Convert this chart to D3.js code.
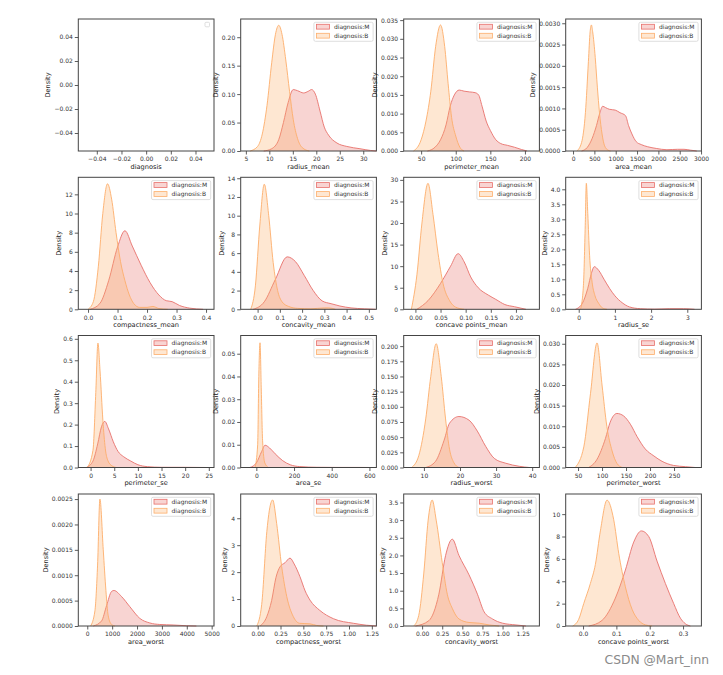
<!DOCTYPE html>
<html><head><meta charset="utf-8">
<script src="https://cdn.jsdelivr.net/npm/d3@7"></script>
<style>body{margin:0;background:#fff} svg text{font-family:"DejaVu Sans",sans-serif}</style>
</head><body><svg id="c" width="723" height="675"></svg>
<script>
// ---------------- data ----------------
const features = ["diagnosis","radius_mean","perimeter_mean","area_mean",
  "compactness_mean","concavity_mean","concave points_mean","radius_se",
  "perimeter_se","area_se","radius_worst","perimeter_worst",
  "area_worst","compactness_worst","concavity_worst","concave points_worst"];
const seriesNames = ["diagnosis:M","diagnosis:B"];

const xDomains = [[-0.055,0.055],[3.9,32.8],[24.8,220.9],[-172,3008],
  [-0.033,0.427],[-0.076,0.534],[-0.0233,0.2467],[-0.36,3.39],
  [-2.6,26.1],[-83,637],[4.4,42.0],[24.3,307],
  [-361,5094],[-0.186,1.30],[-0.229,1.458],[-0.052,0.355]];
const yDomains = [[-0.055,0.055],[0,0.232],[0,0.0353],[0,0.0031],
  [0,13.78],[0,14.1],[0,30.6],[0,4.4],
  [0,0.6155],[0,0.058],[0,0.2175],[0,0.032],
  [0,0.0026],[0,4.9],[0,3.74],[0,11.8]];
const xTicks = [[-0.04,-0.02,0,0.02,0.04],[5,10,15,20,25,30],[50,100,150,200],[0,500,1000,1500,2000,2500,3000],
  [0,0.1,0.2,0.3,0.4],[0,0.1,0.2,0.3,0.4,0.5],[0,0.05,0.1,0.15,0.2],[0,1,2,3],
  [0,5,10,15,20,25],[0,200,400,600],[10,20,30,40],[50,100,150,200,250],
  [0,1000,2000,3000,4000,5000],[0,0.25,0.5,0.75,1,1.25],[0,0.25,0.5,0.75,1,1.25],[0,0.1,0.2,0.3]];
const xFormats = [".2f","d","d","d",".1f",".1f",".2f","d","d","d","d","d","d",".2f",".2f",".1f"];
const yTicks = [[-0.04,-0.02,0,0.02,0.04],[0,0.05,0.1,0.15,0.2],[0,0.005,0.01,0.015,0.02,0.025,0.03,0.035],[0,0.0005,0.001,0.0015,0.002,0.0025,0.003],
  [0,2,4,6,8,10,12],[0,2,4,6,8,10,12,14],[0,5,10,15,20,25,30],[0,0.5,1,1.5,2,2.5,3,3.5,4],
  [0,0.1,0.2,0.3,0.4,0.5,0.6],[0,0.01,0.02,0.03,0.04,0.05],[0,0.025,0.05,0.075,0.1,0.125,0.15,0.175,0.2],[0,0.005,0.01,0.015,0.02,0.025,0.03],
  [0,0.0005,0.001,0.0015,0.002,0.0025],[0,1,2,3,4],[0,0.5,1,1.5,2,2.5,3,3.5],[0,2,4,6,8,10]];
const yFormats = [".2f",".2f",".3f",".4f","d","d","d",".1f",".1f",".2f",".3f",".3f",".4f","d",".1f","d"];

// density curves: [value, density]
const radiusMeanM = [[8.8,0],[10.5,0.004],[12,0.02],[13,0.05],[14,0.085],[15.1,0.108],[16,0.106],[17.3,0.102],[18.3,0.105],[19.0,0.108],[19.8,0.1],[20.8,0.07],[21.7,0.042],[22.6,0.028],[24.4,0.014],[26.5,0.008],[29.3,0.004],[31.5,0.001],[32.8,0]];
const radiusMeanB = [[5.9,0],[7.5,0.008],[8.5,0.03],[9.5,0.08],[10.5,0.155],[11.3,0.205],[12.0,0.221],[12.7,0.205],[13.5,0.16],[14.3,0.105],[15.1,0.055],[16.0,0.022],[17.0,0.006],[18.5,0]];
const perimeterMeanM = [[59,0],[70,0.001],[78,0.003],[86,0.007],[92,0.012],[98,0.015],[105,0.0163],[112,0.016],[120,0.0158],[128,0.0156],[133,0.015],[138,0.012],[144,0.008],[150,0.0055],[158,0.003],[165,0.002],[175,0.0015],[185,0.001],[195,0.0004],[203,0]];
const perimeterMeanB = [[39,0],[50,0.003],[57,0.008],[64,0.016],[71,0.028],[78,0.0337],[84,0.028],[89,0.018],[94,0.009],[100,0.004],[106,0.001],[112,0]];
const areaMeanM = [[200,0],[330,0.00008],[450,0.0003],[550,0.0006],[630,0.0009],[695,0.00105],[760,0.00102],[850,0.00098],[990,0.00096],[1100,0.0009],[1230,0.00083],[1300,0.0006],[1380,0.0004],[1480,0.00022],[1600,0.00015],[1750,0.0001],[1950,0.00006],[2200,0.00003],[2450,0.00004],[2600,0.00004],[2750,0.00002],[2900,0]];
const areaMeanB = [[90,0],[200,0.0002],[290,0.0009],[360,0.0021],[400,0.0028],[430,0.00296],[460,0.0028],[520,0.0022],[570,0.0015],[620,0.0009],[680,0.0004],[740,0.00012],[820,0.00002],[880,0]];
const compactnessMeanM = [[0.007,0],[0.04,0.6],[0.07,3],[0.1,6.5],[0.125,8.2],[0.15,6.6],[0.18,4.6],[0.21,2.8],[0.24,1.5],[0.265,0.9],[0.285,0.8],[0.31,0.4],[0.345,0.12],[0.39,0]];
const compactnessMeanB = [[0.0,0],[0.018,0.8],[0.035,4.5],[0.05,10],[0.066,13.1],[0.08,11.5],[0.095,8],[0.11,5],[0.125,3],[0.14,1.5],[0.155,0.6],[0.175,0.2],[0.2,0.2],[0.22,0.3],[0.24,0.08],[0.27,0]];
const concavityMeanM = [[-0.02,0],[0.03,0.8],[0.08,3.2],[0.133,5.6],[0.17,5.1],[0.21,3.6],[0.25,2],[0.29,0.9],[0.33,0.6],[0.37,0.35],[0.42,0.15],[0.48,0.05],[0.53,0]];
const concavityMeanB = [[-0.031,0],[-0.01,2.5],[0.01,9],[0.03,13.36],[0.05,10],[0.07,5],[0.09,2],[0.11,0.8],[0.14,0.3],[0.18,0.1],[0.24,0.05],[0.3,0.15],[0.32,0.15],[0.35,0]];
const concavePointsMeanM = [[0.003,0],[0.025,2],[0.05,6],[0.07,10],[0.085,12.9],[0.097,11],[0.11,7.5],[0.125,5],[0.145,3.3],[0.16,2.3],[0.178,1.1],[0.197,0.6],[0.22,0]];
const concavePointsMeanB = [[-0.008,0],[0.003,8],[0.013,20],[0.025,29.2],[0.035,22],[0.045,13],[0.055,6],[0.068,2],[0.08,0.5],[0.097,0]];
const radiusSeM = [[-0.09,0],[0.1,0.2],[0.25,0.7],[0.35,1.2],[0.43,1.42],[0.55,1.3],[0.7,1.0],[0.85,0.7],[1.0,0.45],[1.2,0.22],[1.4,0.08],[1.7,0.02],[2.1,0.005],[2.5,0.02],[2.9,0.02],[3.2,0]];
const radiusSeB = [[0.05,0],[0.13,0.8],[0.18,2.8],[0.21,4.2],[0.25,3.2],[0.3,1.8],[0.37,0.9],[0.45,0.45],[0.55,0.2],[0.65,0.05],[0.78,0]];
const perimeterSeM = [[-0.9,0],[0.5,0.03],[1.5,0.11],[2.3,0.19],[3.0,0.215],[3.8,0.18],[4.8,0.12],[5.8,0.075],[7.0,0.05],[8.5,0.03],[10,0.013],[12,0.004],[15,0.001],[20,0.0008],[24.5,0]];
const perimeterSeB = [[-0.7,0],[0.5,0.08],[1.1,0.35],[1.55,0.58],[2.0,0.45],[2.6,0.22],[3.1,0.09],[3.7,0.03],[4.5,0.008],[5.5,0]];
const areaSeM = [[-34,0],[0,0.002],[28,0.007],[46,0.0098],[70,0.0086],[100,0.006],[140,0.003],[180,0.0012],[230,0.0004],[320,0.0001],[420,0.00004],[550,0.00003],[610,0]];
const areaSeB = [[-7,0],[7,0.01],[13,0.04],[19.5,0.0548],[26,0.035],[33,0.012],[45,0.002],[64,0]];
const radiusWorstM = [[10.5,0],[13.2,0.01],[15.6,0.045],[17.1,0.073],[19.7,0.084],[22.5,0.078],[24.8,0.06],[27.1,0.035],[29.5,0.015],[32.7,0.007],[36.4,0.002],[39.2,0]];
const radiusWorstB = [[6.6,0],[8.6,0.02],[10.5,0.08],[11.9,0.15],[13.4,0.204],[14.8,0.15],[16,0.08],[17.1,0.03],[18.3,0.008],[19.7,0]];
const perimeterWorstM = [[72,0],[89.6,0.002],[107,0.007],[117,0.011],[131,0.0131],[145,0.0125],[159,0.0105],[173,0.0075],[190,0.0045],[208,0.0028],[225,0.0015],[249,0.0005],[274,0.0002],[294,0]];
const perimeterWorstB = [[44,0],[62,0.005],[76,0.018],[89.6,0.0302],[100,0.02],[110,0.01],[121,0.004],[131,0.001],[142,0]];
const areaWorstM = [[240,0],[575,0.0001],[775,0.0004],[976,0.00068],[1070,0.0007],[1377,0.00058],[1711,0.00038],[2112,0.00015],[2513,0.00006],[2914,0.00003],[3449,0.00002],[3984,0.000005],[4385,0]];
const areaWorstB = [[134,0],[307,0.0003],[414,0.0012],[508,0.0025],[642,0.0015],[749,0.0007],[842,0.0002],[976,0.00003],[1110,0]];
const compactnessWorstM = [[0.026,0],[0.1,0.35],[0.153,0.95],[0.2,1.8],[0.245,2.2],[0.3,2.35],[0.354,2.52],[0.4,2.3],[0.463,1.83],[0.52,1.3],[0.573,0.96],[0.68,0.58],[0.83,0.27],[1.05,0.1],[1.19,0.03],[1.3,0]];
const compactnessWorstB = [[-0.01,0],[0.044,0.8],[0.1,3.5],[0.128,4.3],[0.164,4.68],[0.208,3.8],[0.263,2.2],[0.318,1.1],[0.39,0.35],[0.46,0.1],[0.573,0.08],[0.646,0.02],[0.72,0]];
const concavityWorstM = [[-0.083,0],[0.083,0.15],[0.208,0.9],[0.292,2],[0.375,2.46],[0.458,2.0],[0.583,1.45],[0.688,0.9],[0.771,0.4],[0.875,0.2],[1.0,0.08],[1.167,0.03],[1.29,0]];
const concavityWorstB = [[-0.104,0],[-0.042,0.3],[0.021,1.5],[0.075,3],[0.125,3.57],[0.175,3],[0.25,1.8],[0.313,0.9],[0.375,0.5],[0.458,0.2],[0.583,0.1],[0.708,0.08],[0.833,0.03],[0.958,0]];
const concavePointsWorstM = [[0.017,0],[0.057,0.5],[0.097,2.5],[0.127,5],[0.152,7.5],[0.175,8.5],[0.197,8],[0.222,5.8],[0.247,3.8],[0.272,2],[0.292,0.7],[0.307,0.2],[0.322,0]];
const concavePointsWorstB = [[-0.031,0],[-0.013,0.6],[0.002,2],[0.022,3.8],[0.037,5.5],[0.052,8.5],[0.072,11.25],[0.092,9.5],[0.107,6.5],[0.127,3.5],[0.147,1.5],[0.167,0.5],[0.187,0.1],[0.207,0]];

const curvesM = [null,radiusMeanM,perimeterMeanM,areaMeanM,compactnessMeanM,concavityMeanM,concavePointsMeanM,radiusSeM,
  perimeterSeM,areaSeM,radiusWorstM,perimeterWorstM,areaWorstM,compactnessWorstM,concavityWorstM,concavePointsWorstM];
const curvesB = [null,radiusMeanB,perimeterMeanB,areaMeanB,compactnessMeanB,concavityMeanB,concavePointsMeanB,radiusSeB,
  perimeterSeB,areaSeB,radiusWorstB,perimeterWorstB,areaWorstB,compactnessWorstB,concavityWorstB,concavePointsWorstB];

// ---------------- layout / style ----------------
const colLeft = [78.3, 240.7, 403.7, 565.7];
const rowTop = [19, 177.3, 335.5, 494];
const pw = 135.7, ph = 132;
const colors = ["#e8706b", "#fdae6b"];
const fillOp = 0.3;
const tickFont = 6, labelFont = 6.6, legendFont = 6;

const svg = d3.select("#c");

features.forEach((feat, i) => {
  const col = i % 4, row = Math.floor(i / 4);
  const L = colLeft[col], T = rowTop[row];
  const g = svg.append("g").attr("transform", `translate(${L},${T})`);
  const x = d3.scaleLinear().domain(xDomains[i]).range([0, pw]);
  const y = d3.scaleLinear().domain(yDomains[i]).range([ph, 0]);

  // curves
  if (curvesM[i]) {
    [curvesM[i], curvesB[i]].forEach((data, k) => {
      const area = d3.area().x(d => x(d[0])).y0(y(0)).y1(d => y(d[1])).curve(d3.curveMonotoneX);
      const line = d3.line().x(d => x(d[0])).y(d => y(d[1])).curve(d3.curveMonotoneX);
      g.append("path").attr("d", area(data)).attr("fill", colors[k]).attr("fill-opacity", fillOp).attr("stroke", "none");
      g.append("path").attr("d", line(data)).attr("fill", "none").attr("stroke", colors[k]).attr("stroke-width", 0.9);
    });
  }

  // axes
  const xa = g.append("g").attr("transform", `translate(0,${ph})`)
    .call(d3.axisBottom(x).tickValues(xTicks[i]).tickSize(3.5).tickPadding(2.5).tickFormat(d3.format(xFormats[i])));
  const ya = g.append("g")
    .call(d3.axisLeft(y).tickValues(yTicks[i]).tickSize(3.5).tickPadding(2).tickFormat(d3.format(yFormats[i])));
  [xa, ya].forEach(a => {
    a.select(".domain").remove();
    a.selectAll(".tick line").attr("stroke", "#333").attr("stroke-width", 0.8);
    a.selectAll(".tick text").attr("fill", "#333").attr("font-size", tickFont).attr("font-family", "DejaVu Sans");
  });

  // frame
  g.append("rect").attr("width", pw).attr("height", ph).attr("fill", "none").attr("stroke", "#444").attr("stroke-width", 1);

  // labels
  g.append("text").attr("x", pw / 2).attr("y", ph + 17.5).attr("text-anchor", "middle")
    .attr("font-size", labelFont).attr("fill", "#222").text(feat);
  let maxW = 0;
  ya.selectAll(".tick text").each(function () { maxW = Math.max(maxW, this.getComputedTextLength()); });
  const lx = -5.5 - maxW - 4;
  g.append("text").attr("transform", `translate(${lx},${ph / 2}) rotate(-90)`).attr("text-anchor", "middle")
    .attr("font-size", labelFont).attr("fill", "#222").text("Density");

  // legend
  if (curvesM[i]) {
    const lg = g.append("g").attr("transform", `translate(${pw - 62.5},3.3)`);
    lg.append("rect").attr("width", 59.2).attr("height", 19).attr("rx", 1.5)
      .attr("fill", "#fff").attr("fill-opacity", 0.8).attr("stroke", "#d5d5d5").attr("stroke-width", 0.8);
    seriesNames.forEach((nm, k) => {
      const cy = 4.4 + k * 9;
      lg.append("rect").attr("x", 2.5).attr("y", cy - 2.4).attr("width", 13).attr("height", 4.8)
        .attr("fill", colors[k]).attr("fill-opacity", fillOp).attr("stroke", colors[k]).attr("stroke-width", 0.8);
      lg.append("text").attr("x", 20).attr("y", cy + 2.1).attr("font-size", legendFont).attr("fill", "#333").text(nm);
    });
  } else {
    g.append("rect").attr("x", pw - 9).attr("y", 3.3).attr("width", 4.5).attr("height", 4.5).attr("rx", 1)
      .attr("fill", "#fff").attr("stroke", "#d5d5d5").attr("stroke-width", 0.8);
  }
});

svg.append("text").attr("x", 709).attr("y", 664).attr("text-anchor", "end")
  .attr("font-size", 12.3).attr("fill", "#8a8a8a").text("CSDN @Mart_inn");
</script></body></html>
